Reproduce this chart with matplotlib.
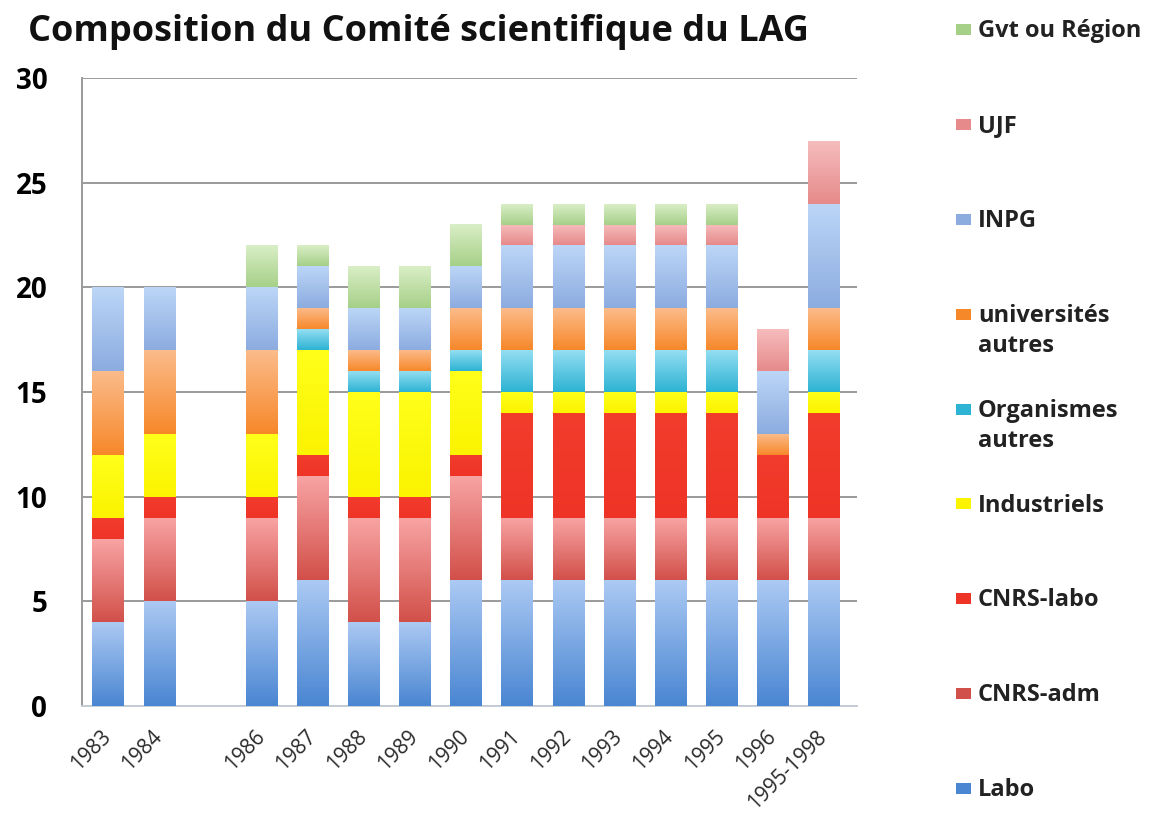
import numpy as np
import matplotlib
matplotlib.use("Agg")
import matplotlib.pyplot as plt
from matplotlib.colors import to_rgba
from matplotlib.patches import Rectangle

plt.rcParams['font.family'] = ['Open Sans', 'DejaVu Sans']

# categories (blank slot = missing 1985)
years = ['1983', '1984', '', '1986', '1987', '1988', '1989', '1990',
         '1991', '1992', '1993', '1994', '1995', '1996', '1995-1998']

# series, bottom to top
labo        = [4, 5, 0, 5, 6, 4, 4, 6, 6, 6, 6, 6, 6, 6, 6]
cnrs_adm    = [4, 4, 0, 4, 5, 5, 5, 5, 3, 3, 3, 3, 3, 3, 3]
cnrs_labo   = [1, 1, 0, 1, 1, 1, 1, 1, 5, 5, 5, 5, 5, 3, 5]
industriels = [3, 3, 0, 3, 5, 5, 5, 4, 1, 1, 1, 1, 1, 0, 1]
org_autres  = [0, 0, 0, 0, 1, 1, 1, 1, 2, 2, 2, 2, 2, 0, 2]
univ_autres = [4, 4, 0, 4, 1, 1, 1, 2, 2, 2, 2, 2, 2, 1, 2]
inpg        = [4, 3, 0, 3, 2, 2, 2, 2, 3, 3, 3, 3, 3, 3, 5]
ujf         = [0, 0, 0, 0, 0, 0, 0, 0, 1, 1, 1, 1, 1, 2, 3]
gvt_region  = [0, 0, 0, 2, 1, 2, 2, 2, 1, 1, 1, 1, 1, 0, 0]

series = [labo, cnrs_adm, cnrs_labo, industriels, org_autres,
          univ_autres, inpg, ujf, gvt_region]
names = ['Labo', 'CNRS-adm', 'CNRS-labo', 'Industriels', 'Organismes\nautres',
         'universités\nautres', 'INPG', 'UJF', 'Gvt ou Région']
# (bottom colour, top colour) for each series gradient
grads = [('#4a86d2', '#abc9f3'),
         ('#d2504a', '#f8a4a4'),
         ('#ee3426', '#f23c2c'),
         ('#fbf300', '#ffff1a'),
         ('#2db3d3', '#93def2'),
         ('#f7882a', '#fbbb8a'),
         ('#8cace0', '#bcd6f7'),
         ('#e68a8b', '#f6bcbc'),
         ('#a6d088', '#d9eec6')]

W, H = 1153.0, 814.0
fig = plt.figure(figsize=(11.53, 8.14), dpi=100)
ax = fig.add_axes([82 / W, 1 - 706 / H, 775 / W, 628 / H])

x = np.arange(len(years))
width = 0.61
bottom = np.zeros(len(years))
for vals, (c0, c1) in zip(series, grads):
    vals = np.array(vals, dtype=float)
    bars = ax.bar(x, vals, width, bottom=bottom, color=c1, linewidth=0, zorder=2)
    g = np.linspace(0, 1, 64)[:, None, None]
    img = (1 - g) * np.array(to_rgba(c0)) + g * np.array(to_rgba(c1))
    for b in bars:
        if b.get_height() <= 0:
            continue
        x0, y0 = b.get_x(), b.get_y()
        ax.imshow(img, extent=[x0, x0 + b.get_width(), y0, y0 + b.get_height()],
                  origin='lower', aspect='auto', interpolation='bilinear', zorder=3)
    bottom += vals

ax.set_xlim(-0.51, len(years) - 0.35)
ax.set_ylim(0, 30)
ax.set_yticks(range(0, 31, 5))
ax.yaxis.grid(True, color='#9a9a9a', linewidth=1.4, zorder=0)
ax.set_axisbelow(True)
for s in ['top', 'right']:
    ax.spines[s].set_visible(False)
ax.spines['left'].set_color('#9a9a9a')
ax.spines['left'].set_linewidth(1.4)
ax.spines['bottom'].set_color('#c4ccd6')
ax.spines['bottom'].set_linewidth(1.4)
ax.tick_params(axis='both', length=0)
ax.tick_params(axis='y', pad=25, labelsize=20)
for t in ax.get_yticklabels():
    t.set_fontweight('bold')
ax.set_xticks(x)
ax.set_xticklabels(years, rotation=45, ha='right', va='center',
                   rotation_mode='anchor', fontsize=15, color='#2a2a2a')
ax.tick_params(axis='x', pad=20)

fig.text(28 / W, 1 - 41 / H, 'Composition du Comité scientifique du LAG',
         fontsize=26, fontweight='bold', va='baseline', ha='left', color='#111111')

# legend, top to bottom, evenly spaced; extra lines go below the first
for k, i in enumerate(range(len(names) - 1, -1, -1)):
    yc = 29 + 94.9 * k
    c0, c1 = grads[i]
    fig.add_artist(Rectangle((956 / W, 1 - (yc + 6) / H), 15 / W, 11 / H,
                             transform=fig.transFigure, facecolor=c0, edgecolor='none'))
    for j, line in enumerate(names[i].split('\n')):
        fig.text(978 / W, 1 - (yc + 8 + 30 * j) / H, line, fontsize=17,
                 fontweight='bold', va='baseline', ha='left', color='#222222')

fig.savefig('out.png', dpi=100)
